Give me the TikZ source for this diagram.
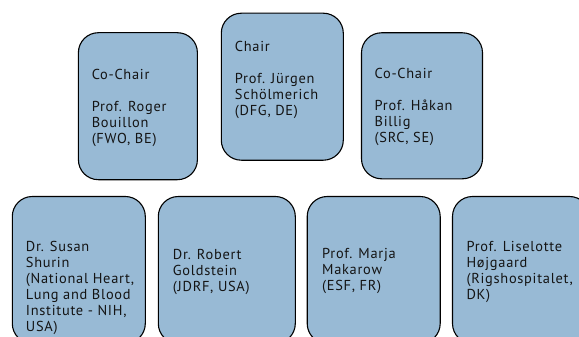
\documentclass[tikz,border=0pt]{standalone}
\usepackage{fontspec}
\setmainfont[LetterSpace=5]{PT Sans}
\definecolor{boxblue}{RGB}{152,186,213}
\definecolor{inkgray}{RGB}{20,20,20}
\begin{document}
\begin{tikzpicture}[x=1pt,y=-1pt]
  \tikzset{
    member/.style args={#1/#2}{draw=black,line width=1.1pt,fill=boxblue,
      rounded corners=20pt,minimum width=#1pt,minimum height=#2pt,inner sep=0pt},
    who/.style={anchor=north west,inner sep=0pt,align=left,text=inkgray,
      font=\fontsize{14.4}{16}\selectfont},
  }
  \useasboundingbox (0,0) rectangle (579,337);
  \clip (0,0) rectangle (579,337);

    %TOP ROW
    \node[member={119/147}] (cochairA) at (137.9,106.2) {};
    \node[member={122/147}] (chair) at (282.3,86.7) {};
    \node[member={121/146}] (cochairB) at (422,105.8) {};
    %BOTTOM ROW
    \node[member={133/147}] (shurin) at (78.8,270) {};
    \node[member={137/147}] (goldstein) at (226.8,270) {};
    \node[member={133/147}] (makarow) at (373.7,270) {};
    \node[member={137/147}] (hojgaard) at (521,270) {};

    %NAMES
    \node[who] (cochairAtxt) at ([shift={(13.7,36.7)}]cochairA.north west)
      {Co-Chair\\[16pt]Prof. Roger\\Bouillon\\(FWO, BE)};
    \node[who] (chairtxt) at ([shift={(14,28.6)}]chair.north west)
      {Chair\\[16pt]Prof. Jürgen\\Schölmerich\\(DFG, DE)};
    \node[who] (cochairBtxt) at ([shift={(13.5,36)}]cochairB.north west)
      {Co-Chair\\[16pt]Prof. Håkan\\Billig\\(SRC, SE)};
    \node[who] (shurintxt) at ([shift={(14,45)}]shurin.north west)
      {Dr. Susan\\Shurin\\(National Heart,\\Lung and Blood\\Institute - NIH,\\USA)};
    \node[who] (goldsteintxt) at ([shift={(15,53)}]goldstein.north west)
      {Dr. Robert\\Goldstein\\(JDRF, USA)};
    \node[who] (makarowtxt) at ([shift={(15.3,52.3)}]makarow.north west)
      {Prof. Marja\\Makarow\\(ESF, FR)};
    \node[who] (hojgaardtxt) at ([shift={(14.4,45)}]hojgaard.north west)
      {Prof. Liselotte\\Højgaard\\(Rigshospitalet,\\DK)};
  \end{tikzpicture}
\end{document}
